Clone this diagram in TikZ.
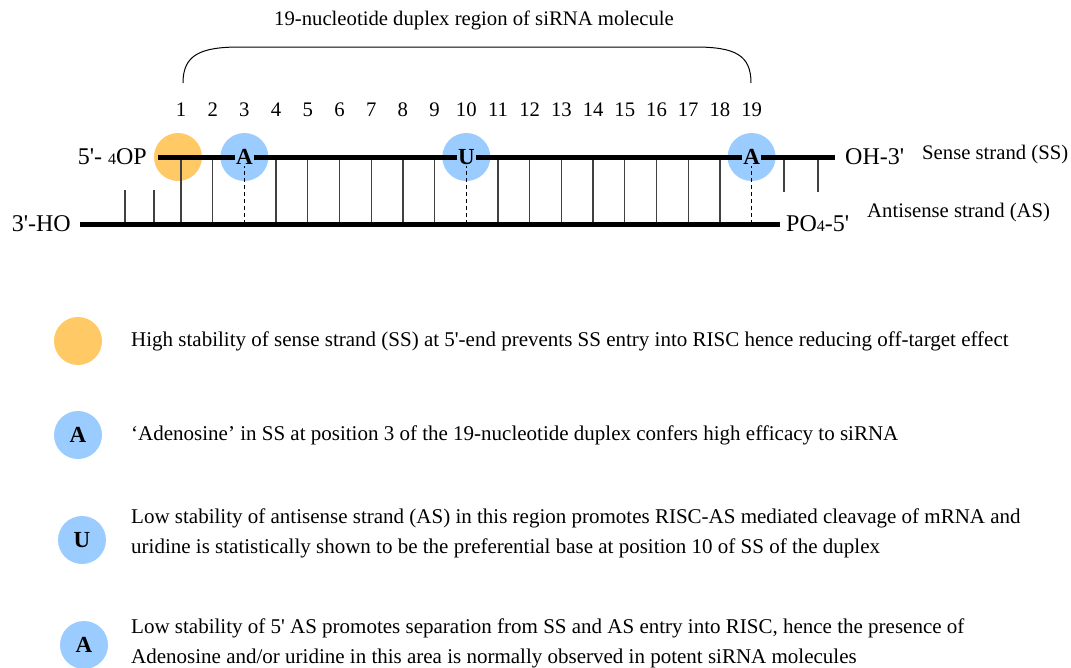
\documentclass[tikz,border=0pt]{standalone}
\usepackage{fontspec}
\setmainfont{Liberation Serif}
\newcommand{\sq}{\textquotesingle}
\definecolor{orng}{RGB}{255,202,102}
\definecolor{lblue}{RGB}{155,204,255}
\begin{document}
\begin{tikzpicture}[x=1pt,y=-1pt,
  dot/.style={circle,minimum size=48pt,inner sep=0pt},
  odot/.style={dot,fill=orng},
  bdot/.style={dot,fill=lblue,font=\fontsize{23}{23}\selectfont\bfseries},
  strand/.style={line width=5pt},
  rung/.style={line width=1.3pt,draw=black!75},
  drung/.style={line width=1pt,dash pattern=on 4pt off 3pt},
  num/.style={font=\fontsize{20.7}{20.7}\selectfont},
  endlbl/.style={font=\fontsize{24}{24}\selectfont,inner sep=0pt},
  sidelbl/.style={font=\fontsize{20.7}{20.7}\selectfont,anchor=west,inner sep=0pt},
  legtxt/.style={font=\fontsize{21}{30}\selectfont,anchor=west,inner sep=0pt,align=left},
  onletter/.style={fill=lblue,inner sep=1.5pt,font=\fontsize{23}{23}\selectfont\bfseries}
]
\useasboundingbox (0,0) rectangle (1071,667);

% title and brace
\node[num] (title) at (474,20) {19-nucleotide duplex region of siRNA molecule};
\coordinate (bl) at (183,83);
\coordinate (br) at (751,83);
\draw[line width=1pt] (bl) .. controls (183,55) and (200,47) .. (240,47) -- (695,47) .. controls (735,47) and (751,55) .. (br);

% position numbers
\foreach \i in {1,...,19}
  \node[num] (n\i) at ({181+(\i-1)*31.7},110) {\i};

% highlight circles
\node[odot] (o1) at (178,157) {};
\node[dot,fill=lblue] (b3) at ({181+2*31.7},157) {};
\node[dot,fill=lblue] (b10) at ({181+9*31.7},157) {};
\node[dot,fill=lblue] (b19) at ({181+18*31.7},157) {};

% strand end points
\coordinate (ssl) at (158,157);
\coordinate (ssr) at (835,157);
\coordinate (asl) at (80,224);
\coordinate (asr) at (780,224);

% rungs
\foreach \i in {1,2,4,5,6,7,8,9,11,12,13,14,15,16,17,18}
  \draw[rung] ({181+(\i-1)*31.7},157) -- ({181+(\i-1)*31.7},224);
\foreach \i in {3,10,19}
  \draw[drung] ({181+(\i-1)*31.7},157) -- ({181+(\i-1)*31.7},224);
% overhangs
\draw[rung] (125,190) -- (125,224);
\draw[rung] (154,190) -- (154,224);
\draw[rung] (784,157) -- (784,192);
\draw[rung] (818,157) -- (818,192);

% strands
\draw[strand] (ssl) -- (ssr);
\draw[strand] (asl) -- (asr);

% letters on sense strand
\node[onletter] (a3) at (b3.center) {A};
\node[onletter] (u10) at (b10.center) {U};
\node[onletter] (a19) at (b19.center) {A};

% end labels
\node[endlbl,anchor=east] (l5) at (147,157) {5\sq- {\fontsize{16}{16}\selectfont 4}OP};
\node[endlbl,anchor=west] (l3) at (845,157) {OH-3\sq};
\node[endlbl,anchor=east] (l3a) at (71,224) {3\sq-HO};
\node[endlbl,anchor=west] (l5a) at (786,224) {PO{\fontsize{16}{16}\selectfont 4}-5\sq};
\node[sidelbl] (ss) at (922,155) {Sense strand (SS)};
\node[sidelbl] (as) at (867,213) {Antisense strand (AS)};

% legend
\node[odot] (k1) at (78,341) {};
\node[bdot] (k2) at (78,435) {A};
\node[bdot] (k3) at (82,540) {U};
\node[bdot] (k4) at (84,645) {A};
\node[legtxt] (t1) at (131,341) {High stability of sense strand (SS) at 5\sq-end prevents SS entry into RISC hence reducing off-target effect};
\node[legtxt] (t2) at (131,435) {‘Adenosine’ in SS at position 3 of the 19-nucleotide duplex confers high efficacy to siRNA};
\node[legtxt] (t3) at (131,533) {Low stability of antisense strand (AS) in this region promotes RISC-AS mediated cleavage of mRNA and\\uridine is statistically shown to be the preferential base at position 10 of SS of the duplex};
\node[legtxt] (t4) at (131,643) {Low stability of 5\sq{} AS promotes separation from SS and AS entry into RISC, hence the presence of\\Adenosine and/or uridine in this area is normally observed in potent siRNA molecules};
\end{tikzpicture}
\end{document}
